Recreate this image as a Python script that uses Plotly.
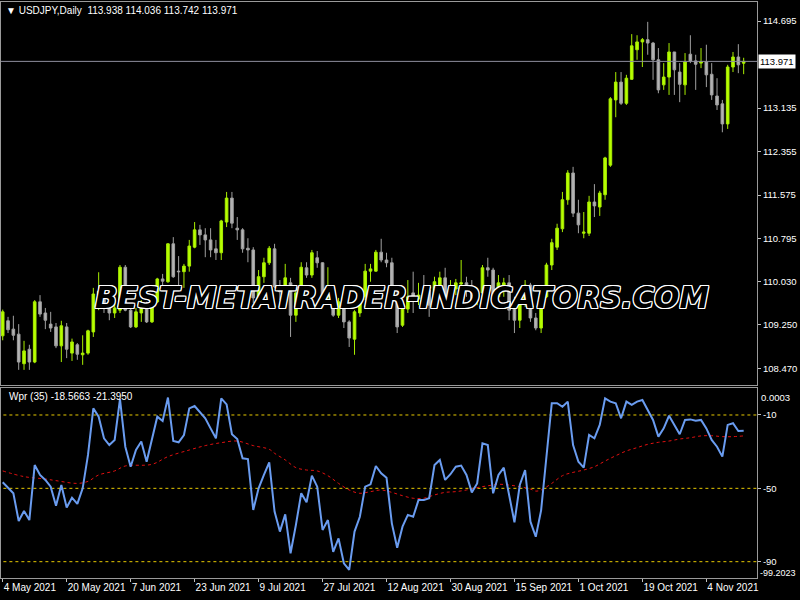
import pandas as pd
import plotly.graph_objects as go
from plotly.subplots import make_subplots

# ---------------- data ----------------
dates = pd.bdate_range("2021-05-04", periods=140)

opens = [109.05,109.32,109.17,109.08,108.55,108.81,108.58,109.66,109.46,109.26,
109.21,108.87,109.21,108.74,108.89,108.71,108.74,109.12,109.78,109.75,
109.55,109.46,109.51,110.28,109.51,109.21,109.46,109.60,109.30,109.66,
110.07,110.02,110.70,110.21,110.20,110.30,110.64,110.95,110.86,110.77,
110.61,110.54,111.09,111.52,110.98,110.95,110.62,110.59,109.73,110.11,
110.36,110.61,109.93,109.75,110.00,109.42,109.82,110.27,110.14,110.45,
110.36,109.75,109.91,109.42,109.75,109.30,108.99,109.46,109.75,110.21,
110.21,110.55,110.41,110.36,109.66,109.24,109.53,109.82,109.71,109.73,
109.87,109.64,109.93,110.09,109.82,109.89,109.98,110.00,109.93,109.69,
109.82,110.27,110.23,109.75,109.87,110.00,109.66,109.33,109.64,109.96,
109.37,109.19,109.75,110.32,110.64,110.97,111.49,111.97,111.25,110.89,
110.89,111.45,111.36,111.58,112.11,113.28,113.60,113.22,113.65,114.18,
114.32,114.36,114.30,114.00,113.55,113.69,114.14,113.78,113.55,114.10,
113.98,113.94,113.96,113.74,113.35,113.21,112.85,113.87,114.05,113.938]

highs = [109.52,109.39,109.41,109.26,108.96,108.89,109.69,109.78,109.55,109.48,
109.28,109.32,109.28,109.00,108.92,109.06,109.16,109.91,110.19,109.82,
109.73,109.64,110.32,110.32,109.57,109.55,109.69,109.66,109.73,110.09,
110.16,110.71,110.82,110.48,110.34,110.77,111.09,111.04,110.98,110.98,
110.77,111.13,111.63,111.63,111.18,110.98,110.80,110.64,110.23,110.45,
110.66,110.70,110.05,110.34,110.09,109.92,110.37,110.37,110.59,110.57,
110.37,110.28,109.96,109.73,109.84,109.33,109.51,109.82,110.34,110.34,
110.59,110.79,110.54,110.45,109.84,109.66,110.05,110.20,110.00,110.14,
109.91,110.11,110.20,110.27,110.05,110.07,110.41,110.11,110.05,109.91,
110.32,110.45,110.27,110.14,110.09,110.14,109.75,109.75,110.05,110.00,
109.46,109.73,110.36,110.79,111.06,111.63,112.02,112.08,111.49,111.27,
111.56,111.77,111.65,112.26,113.33,113.78,113.78,113.73,114.46,114.44,
114.39,114.68,114.32,114.21,113.94,114.30,114.14,113.94,114.12,114.44,
114.09,114.21,114.27,113.94,113.67,113.28,113.91,114.14,114.28,114.036]

lows = [108.97,109.10,108.97,108.44,108.44,108.44,108.56,109.39,109.17,109.12,
108.83,108.58,108.65,108.60,108.62,108.53,108.71,109.03,109.51,109.46,
109.33,109.37,109.46,109.49,109.19,109.19,109.30,109.28,109.28,109.64,
109.96,110.00,110.09,109.91,109.91,110.20,110.62,110.68,110.46,110.46,
110.41,110.41,111.00,110.98,110.77,110.54,110.37,109.64,109.60,110.00,
110.32,109.91,109.69,109.64,109.03,109.30,109.69,110.09,110.09,110.27,
109.69,109.66,109.39,109.37,109.19,108.85,108.71,109.39,109.69,110.02,
110.20,110.37,110.28,109.60,109.10,109.21,109.46,109.46,109.60,109.55,
109.39,109.55,109.87,109.69,109.69,109.78,109.84,109.75,109.60,109.60,
109.78,110.11,109.66,109.69,109.75,109.33,109.10,109.19,109.57,109.30,
109.15,109.10,109.73,110.23,110.59,110.91,111.40,111.18,110.89,110.80,
110.84,111.18,111.20,111.49,112.08,112.97,113.19,113.19,113.64,114.00,
113.87,114.09,113.64,113.40,113.46,113.37,113.37,113.24,113.37,113.94,
113.46,113.85,113.51,113.28,113.10,112.70,112.76,113.78,113.76,113.742]

closes = [109.48,109.16,109.06,108.58,108.78,108.58,109.66,109.44,109.33,109.19,
108.87,109.23,108.81,108.94,108.72,108.74,109.14,109.80,109.85,109.55,
109.46,109.55,110.28,109.51,109.21,109.48,109.60,109.30,109.67,110.07,
110.03,110.70,110.11,110.20,110.30,110.66,110.95,110.86,110.77,110.59,
110.54,111.11,111.52,111.07,110.95,110.61,110.59,109.73,110.11,110.36,
110.62,109.93,109.84,110.09,109.42,109.82,110.28,110.14,110.54,110.36,
109.75,109.91,109.42,109.66,109.30,109.01,109.48,109.75,110.21,110.25,
110.55,110.41,110.36,109.66,109.21,109.57,109.75,109.75,109.78,109.64,
109.60,110.02,110.09,109.75,109.93,110.00,110.00,109.87,109.69,109.82,
110.27,110.23,109.73,110.00,110.00,109.51,109.33,109.66,109.96,109.37,
109.19,109.69,110.32,110.72,110.98,111.49,111.97,111.25,111.04,110.91,
111.45,111.38,111.61,112.24,113.30,113.60,113.22,113.67,114.25,114.32,
114.36,114.30,114.00,113.46,113.69,114.14,113.82,113.56,113.96,113.98,
113.92,113.96,113.73,113.37,113.19,112.85,113.87,114.05,113.91,113.971]

wpr = [-46.7,-50.0,-52.7,-67.8,-62.4,-67.3,-37.3,-42.7,-45.4,-49.1,
-59.5,-48.2,-60.5,-55.1,-58.5,-50.0,-31.8,-6.4,-10.9,-22.7,
-26.4,-23.6,-1.3,-27.3,-38.2,-29.1,-24.5,-35.5,-23.6,-10.9,
-13.3,-0.5,-24.2,-24.9,-20.9,-6.4,-5.1,-8.2,-11.8,-17.3,
-22.7,-0.9,-4.2,-20.5,-23.1,-33.6,-34.0,-61.8,-50.0,-42.7,
-35.8,-62.7,-73.6,-64.2,-85.4,-70.0,-52.7,-57.6,-43.1,-49.1,
-72.7,-67.3,-84.6,-77.3,-90.9,-94.5,-73.6,-65.5,-49.1,-47.8,
-37.8,-41.8,-44.2,-69.1,-82.4,-70.9,-64.5,-65.5,-56.4,-56.4,
-55.4,-37.3,-34.5,-45.4,-42.3,-38.2,-37.6,-42.7,-52.2,-47.3,
-25.5,-26.4,-52.7,-42.7,-38.7,-53.6,-68.5,-48.2,-40.0,-68.2,
-76.4,-62.0,-33.6,-3.6,-3.6,-5.5,-2.7,-26.4,-35.5,-38.7,
-20.9,-22.7,-15.4,-0.9,-2.7,-3.6,-11.8,-2.7,-4.5,-2.7,
-1.8,-7.3,-12.7,-21.8,-17.3,-10.4,-15.8,-20.5,-12.7,-12.4,
-13.1,-12.7,-17.3,-23.6,-27.3,-32.7,-15.4,-14.5,-18.7,-18.5663]

signal_idx = [0,4,8,10,14,16,18,21,23,28,31,35,38,41,44,47,50,51,53,55,
57,59,61,63,65,67,69,71,73,75,77,79,81,83,85,87,89,91,93,95,
97,99,100,101,103,105,107,109,111,113,115,117,119,121,123,125,127,129,131,133,
135,137,139]
signal_val = [-40.5,-43.6,-44.9,-45.8,-47.3,-46.2,-42.7,-40.5,-37.8,-36.9,
-32.7,-29.1,-26.7,-25.1,-24.2,-26.7,-28.7,-30.9,-34.5,-38.7,
-40.0,-40.5,-43.1,-47.3,-50.9,-52.7,-51.8,-50.9,-52.2,-54.0,
-55.4,-55.4,-53.6,-52.2,-51.8,-50.9,-49.6,-48.6,-47.8,-48.2,
-49.1,-50.4,-51.5,-50.9,-47.3,-43.1,-41.3,-40.0,-38.2,-35.1,
-32.2,-29.6,-27.8,-26.0,-24.9,-24.2,-23.1,-22.4,-21.4,-21.3,
-21.8,-21.8,-21.395]

levels = [-10, -50, -90]
price_ticks = [114.695, 113.135, 112.355, 111.575, 110.795, 110.030, 109.250, 108.470]
date_tick_idx = list(range(0, 140, 12))
current_price = 113.971
symbol_label = "▼ USDJPY,Daily  113.938 114.036 113.742 113.971"
ind_label = "Wpr (35) -18.5663 -21.3950"

# ---------------- figure ----------------
idx = list(range(len(opens)))
date_text = [f"{dates[i].day} {dates[i].strftime('%b %Y')}" for i in date_tick_idx]

fig = make_subplots(rows=2, cols=1, shared_xaxes=True, vertical_spacing=0.0052,
                    row_heights=[0.665, 0.33])

fig.add_trace(go.Candlestick(
    x=idx, open=opens, high=highs, low=lows, close=closes,
    increasing=dict(line=dict(color="#A8EE00", width=1), fillcolor="#B8FF00"),
    decreasing=dict(line=dict(color="#A0A0A0", width=1), fillcolor="#B4B4B4"),
    whiskerwidth=0, showlegend=False, hoverinfo="skip"), row=1, col=1)

for lv in levels:
    fig.add_trace(go.Scatter(x=[-1, 142], y=[lv, lv], mode="lines",
                             line=dict(color="#E6C800", width=1, dash="dot"),
                             showlegend=False, hoverinfo="skip"), row=2, col=1)

fig.add_trace(go.Scatter(x=signal_idx, y=signal_val, mode="lines",
                         line=dict(color="#E01010", width=1, dash="dot", shape="spline"),
                         showlegend=False, hoverinfo="skip"), row=2, col=1)
fig.add_trace(go.Scatter(x=idx, y=wpr, mode="lines",
                         line=dict(color="#6A9CF0", width=2),
                         showlegend=False, hoverinfo="skip"), row=2, col=1)

fig.add_hline(y=current_price, line=dict(color="#8E8E9C", width=1), row=1, col=1)

white = "#FFFFFF"
font_main = "Liberation Sans, Arial"
tick_size = 9.5

fig.update_layout(
    width=800, height=600,
    paper_bgcolor="#000000", plot_bgcolor="#000000",
    margin=dict(l=1, r=43, t=2, b=22, autoexpand=False),
    font=dict(family=font_main, size=10, color=white),
    showlegend=False,
)
xr = [-0.32, 141.5]
fig.update_xaxes(range=xr, showgrid=False, zeroline=False, showline=True,
                 linecolor="#9A9A9A", mirror=True, rangeslider_visible=False,
                 automargin=False)
fig.update_xaxes(showticklabels=False, ticks="", row=1, col=1)
fig.update_xaxes(tickvals=date_tick_idx, ticktext=date_text, ticks="outside",
                 ticklen=3, tickcolor="#C0C0C0", tickangle=0,
                 tickfont=dict(size=10, color=white),
                 ticklabelposition="outside right", row=2, col=1)
fig.update_yaxes(side="right", showgrid=False, zeroline=False, showline=True,
                 linecolor="#9A9A9A", mirror=True, ticks="outside", ticklen=3,
                 tickcolor="#C0C0C0", tickfont=dict(size=tick_size, color=white),
                 automargin=False)
fig.update_yaxes(range=[108.169, 115.036], tickvals=price_ticks,
                 ticktext=[f"{v:.3f}" for v in price_ticks], row=1, col=1)
fig.update_yaxes(range=[-98.9, 4.75], tickvals=levels,
                 ticktext=[str(v) for v in levels], row=2, col=1)

# price label box
fig.add_annotation(xref="paper", yref="y", x=1, y=current_price, text="113.971",
                   showarrow=False, xanchor="left", xshift=1, bgcolor="#FFFFFF",
                   font=dict(color="#000000", size=tick_size, family=font_main),
                   borderpad=1)
fig.add_annotation(xref="paper", yref="paper", x=0.004, y=1, yanchor="top",
                   xanchor="left", yshift=-1, text=symbol_label, showarrow=False,
                   font=dict(size=10, color=white, family=font_main))
fig.add_annotation(xref="paper", yref="y2", x=0.008, y=4.75, yanchor="top",
                   xanchor="left", yshift=-1, text=ind_label, showarrow=False,
                   font=dict(size=10, color=white, family=font_main))
fig.add_annotation(xref="paper", yref="y2", x=1, y=-0.3, xanchor="left", xshift=2,
                   text="0.0003", showarrow=False,
                   font=dict(size=tick_size, color=white, family=font_main))
fig.add_annotation(xref="paper", yref="y2", x=1, y=-96.2, xanchor="left", xshift=1,
                   text="-99.2023", showarrow=False,
                   font=dict(size=9, color=white, family=font_main))
# watermark
fig.add_annotation(xref="paper", yref="y", x=0.531, y=109.73,
                   text="BEST-METATRADER-INDICATORS.COM", showarrow=False,
                   font=dict(family="DejaVu Sans", size=29.5, color="#000000",
                             style="italic", weight="bold",
                             shadow="1px 0 0 #fff, -1px 0 0 #fff, 0 1px 0 #fff, 0 -1px 0 #fff, "
                                    "1px 1px 0 #fff, -1px -1px 0 #fff, 1px -1px 0 #fff, -1px 1px 0 #fff"))

fig.write_html("out.html", config={"displayModeBar": False},
               post_script="document.body.style.margin='0';")
